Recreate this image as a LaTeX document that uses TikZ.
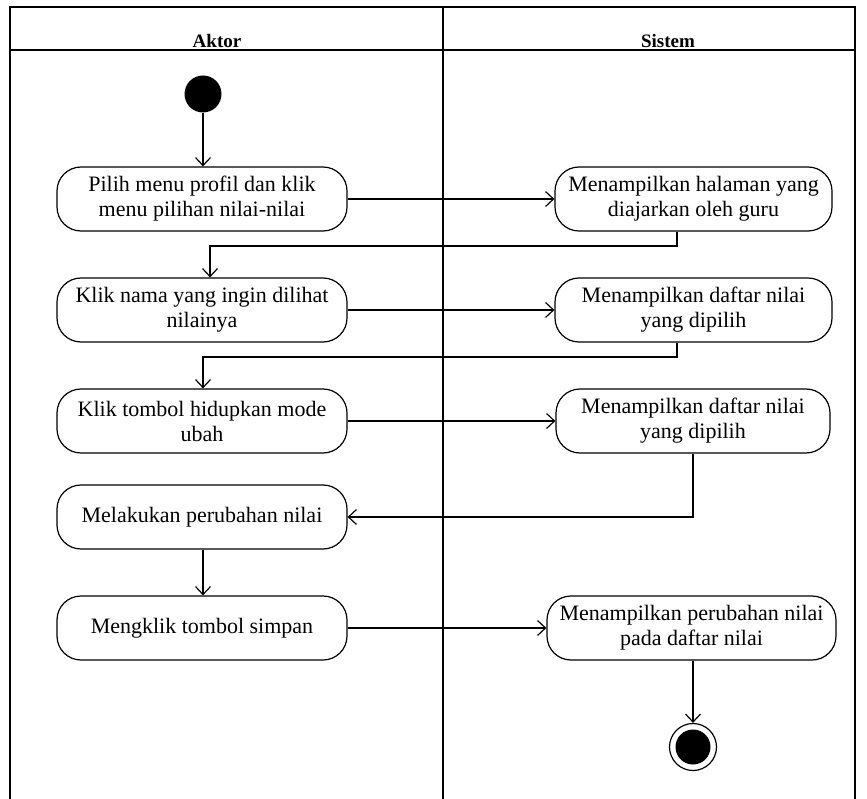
\documentclass[tikz,border=0pt]{standalone}
\usepackage{fontspec}
\setmainfont{Liberation Serif}
\usetikzlibrary{arrows.meta,calc}
\begin{document}
\begin{tikzpicture}[x=1pt,y=-1pt,
  lane/.style={line width=1.3pt},
  act/.style={draw, line width=1.2pt, rounded corners=24pt, align=center,
    inner sep=0pt, minimum height=64pt,
    font=\fontsize{22}{25}\selectfont},
  flow/.style={line width=1.2pt, -{Straight Barb[length=8pt,width=15pt,line width=1.2pt]}},
  head/.style={font=\bfseries\fontsize{19}{22}\selectfont}]
\useasboundingbox (0,0) rectangle (867,799);
% swimlane frame
\draw[lane] (10,810) -- (10,7) -- (855,7) -- (855,810);
\draw[lane] (443,7) -- (443,810);
\draw[lane] (10,50) -- (855,50);
\node[head] (hA) at (217,41) {Aktor};
\node[head] (hS) at (668,41) {Sistem};
% start and end states
\node[circle, fill=black, minimum size=37pt, inner sep=0pt] (start) at (203,94) {};
\node[circle, draw, line width=1.2pt, minimum size=47pt, inner sep=0pt] (stop) at (693,747) {};
\node[circle, fill=black, minimum size=35pt, inner sep=0pt] (stopdot) at (693,747) {};
% actor activities
\node[act, minimum width=290pt] (a1) at (202,199) {Pilih menu profil dan klik\\menu pilihan nilai-nilai};
\node[act, minimum width=290pt] (a2) at (202,310) {Klik nama yang ingin dilihat\\nilainya};
\node[act, minimum width=290pt] (a3) at (202,421) {Klik tombol hidupkan mode\\ubah};
\node[act, minimum width=290pt] (a4) at (202,517) {Melakukan perubahan nilai};
\node[act, minimum width=290pt] (a5) at (202,628) {Mengklik tombol simpan};
% system activities
\node[act, minimum width=277pt] (s1) at (693.5,199) {Menampilkan halaman yang\\diajarkan oleh guru};
\node[act, minimum width=277pt] (s2) at (693.5,310) {Menampilkan daftar nilai\\yang dipilih};
\node[act, minimum width=274pt] (s3) at (693,421) {Menampilkan daftar nilai\\yang dipilih};
\node[act, minimum width=289pt] (s4) at (691.5,628) {Menampilkan perubahan nilai\\pada daftar nilai};
% bend points
\coordinate (k1) at (677,246);
\coordinate (k2) at (210,246);
\coordinate (k3) at (677,357);
\coordinate (k4) at (203,357);
\coordinate (k5) at (693,517);
% transitions
\draw[flow] (start) -- (start |- a1.north);
\draw[flow] (a1.east) -- (s1.west);
\draw[flow] (s1.south -| k1) -- (k1) -- (k2) -- (k2 |- a2.north);
\draw[flow] (a2.east) -- (s2.west);
\draw[flow] (s2.south -| k3) -- (k3) -- (k4) -- (k4 |- a3.north);
\draw[flow] (a3.east) -- (s3.west);
\draw[flow] (s3.south -| k5) -- (k5) -- (a4.east);
\draw[flow] (a4.south -| start) -- (start |- a5.north);
\draw[flow] (a5.east) -- (s4.west);
\draw[flow] (s4.south -| stop) -- (stop.north);
\end{tikzpicture}
\end{document}
